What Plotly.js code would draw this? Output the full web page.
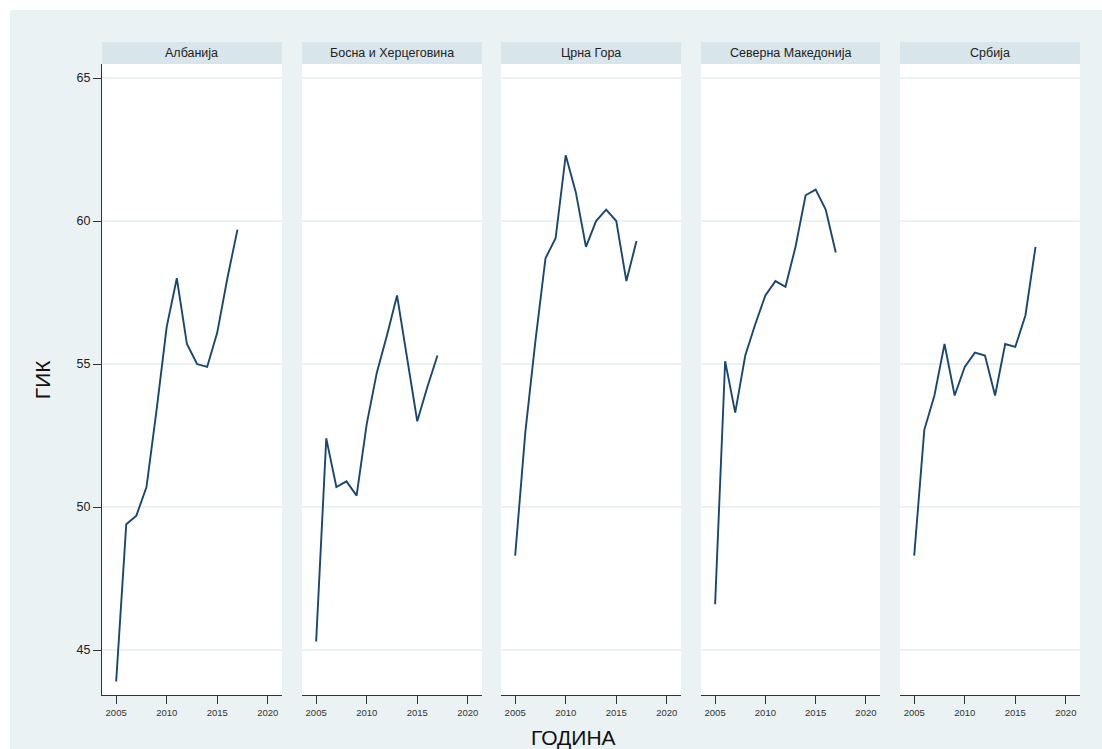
<!DOCTYPE html>
<html>
<head>
<meta charset="utf-8">
<script src="https://cdn.plot.ly/plotly-3.0.1.min.js"></script>
<style>
  html, body { margin: 0; padding: 0; background: #ffffff; }
  #chart { position: absolute; left: 10px; top: 10px; width: 1092px; height: 739px; }
</style>
</head>
<body>
<div id="chart"></div>
<script>
const years = [2005, 2006, 2007, 2008, 2009, 2010, 2011, 2012, 2013, 2014, 2015, 2016, 2017];
const countries = ["Албанија", "Босна и Херцеговина", "Црна Гора", "Северна Македонија", "Србија"];
const albania    = [43.9, 49.4, 49.7, 50.7, 53.4, 56.3, 58.0, 55.7, 55.0, 54.9, 56.1, 58.0, 59.7];
const bih        = [45.3, 52.4, 50.7, 50.9, 50.4, 52.9, 54.7, 56.0, 57.4, 55.2, 53.0, 54.2, 55.3];
const montenegro = [48.3, 52.6, 55.8, 58.7, 59.4, 62.3, 61.0, 59.1, 60.0, 60.4, 60.0, 57.9, 59.3];
const macedonia  = [46.6, 55.1, 53.3, 55.3, 56.4, 57.4, 57.9, 57.7, 59.1, 60.9, 61.1, 60.4, 58.9];
const serbia     = [48.3, 52.7, 53.9, 55.7, 53.9, 54.9, 55.4, 55.3, 53.9, 55.7, 55.6, 56.7, 59.1];
const xTicks = [2005, 2010, 2015, 2020];
const yTicks = [45, 50, 55, 60, 65];
const yTitle = "ГИК";
const xTitle = "ГОДИНА";

const series = [albania, bih, montenegro, macedonia, serbia];
const domains = [[0, 0.1840], [0.2045, 0.3885], [0.4080, 0.5920], [0.6125, 0.7955], [0.8160, 1.0]];
const lineColor = "#1a476f";
const bg = "#eaf2f3";
const stripColor = "#d8e5eb";
const font = "Liberation Sans, Arial, sans-serif";

const traces = series.map((vals, i) => ({
  x: years, y: vals, type: "scatter", mode: "lines",
  xaxis: i === 0 ? "x" : "x" + (i + 1), yaxis: "y",
  line: { color: lineColor, width: 1.9 },
  showlegend: false, hoverinfo: "skip"
}));

const layout = {
  width: 1092, height: 739,
  paper_bgcolor: bg, plot_bgcolor: "#ffffff",
  margin: { l: 92, r: 22, t: 54, b: 54, pad: 0 },
  showlegend: false,
  font: { family: font, color: "#222" },
  yaxis: {
    range: [43.43, 65.49], tickvals: yTicks, ticktext: yTicks.map(String),
    showgrid: true, gridcolor: bg, gridwidth: 2,
    zeroline: false, showline: true, linecolor: "#333", linewidth: 1,
    ticks: "outside", ticklen: 8, tickcolor: "#333", tickwidth: 1,
    tickfont: { size: 12.5, color: "#222", family: font },
    anchor: "x", domain: [0, 1]
  },
  shapes: [], annotations: []
};

for (let i = 0; i < 5; i++) {
  const key = i === 0 ? "xaxis" : "xaxis" + (i + 1);
  layout[key] = {
    domain: domains[i], anchor: "y",
    range: [2003.6, 2021.4], tickvals: xTicks, ticktext: xTicks.map(String),
    showgrid: false, zeroline: false,
    showline: true, linecolor: "#333", linewidth: 1.2,
    ticks: "outside", ticklen: 8, tickcolor: "#333", tickwidth: 1,
    tickfont: { size: 9.5, color: "#333", family: font }
  };
  layout.shapes.push({
    type: "rect", xref: "paper", yref: "paper",
    x0: domains[i][0], x1: domains[i][1], y0: 1.0, y1: 1.0349,
    fillcolor: stripColor, line: { width: 0 }, layer: "below"
  });
  layout.annotations.push({
    xref: "paper", yref: "paper",
    x: (domains[i][0] + domains[i][1]) / 2, y: 1.0175,
    xanchor: "center", yanchor: "middle", showarrow: false,
    text: countries[i], font: { size: 12.5, color: "#222", family: font }
  });
}

layout.annotations.push({
  xref: "paper", yref: "paper", x: -0.0613, y: 0.499,
  xanchor: "center", yanchor: "middle", showarrow: false, textangle: -90,
  text: yTitle, font: { size: 21, color: "#111", family: font }
});
layout.annotations.push({
  xref: "paper", yref: "paper", x: 0.4826, y: -0.0666,
  xanchor: "center", yanchor: "middle", showarrow: false,
  text: xTitle, font: { size: 21, color: "#111", family: font }
});

Plotly.newPlot("chart", traces, layout, { staticPlot: true, displayModeBar: false });
</script>
</body>
</html>
